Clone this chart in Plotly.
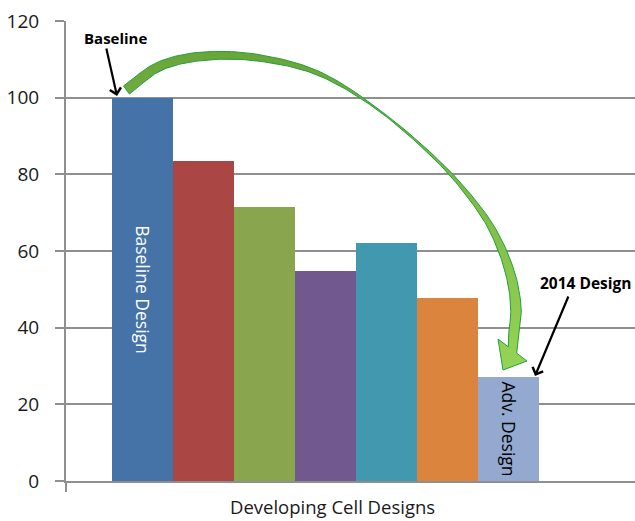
import numpy as np
import plotly.graph_objects as go

# ---------------- data ----------------
categories = ["Baseline Design", "Design 2", "Design 3", "Design 4",
              "Design 5", "Design 6", "Adv. Design"]
values = [100, 83.5, 71.6, 54.8, 62.1, 47.7, 27.2]
bar_labels = ["Baseline Design", "", "", "", "", "", "Adv. Design"]
bar_colors = ["#4572A7", "#AA4643", "#89A54E", "#71588F",
              "#4198AF", "#DB843D", "#93A9CF"]
label_colors = ["#FFFFFF", "#FFFFFF", "#FFFFFF", "#FFFFFF",
                "#FFFFFF", "#FFFFFF", "#000000"]
y_ticks = [0, 20, 40, 60, 80, 100, 120]
x_title = "Developing Cell Designs"

# ---------------- layout constants ----------------
W, H = 635, 521
M_L, M_R, M_T, M_B = 66, 0, 21, 40
X_RANGE = [-1.254, 8.074]
Y_RANGE = [0, 120]
GRID = "#8f8f8f"
FONT = "Open Sans"


def px_to_data(px, py):
    x = X_RANGE[0] + (px - M_L) / (W - M_L - M_R) * (X_RANGE[1] - X_RANGE[0])
    y = Y_RANGE[1] - (py - M_T) / (H - M_T - M_B) * (Y_RANGE[1] - Y_RANGE[0])
    return x, y


def px_to_paper(px, py):
    return (px - M_L) / (W - M_L - M_R), (H - M_B - py) / (H - M_T - M_B)


# ---------------- green curved arrow (decoration, screen pixels) ----------------
center_pts = [(126.5, 90), (160, 66), (205, 56), (260, 58), (320, 74),
              (380, 111), (440, 163), (480, 210), (500, 245), (512, 280),
              (516, 310), (514, 333)]
widths = [10, 9, 8.5, 6.5, 4.0, 1.2, 2.4, 5.0, 7.5, 9.5, 10.5, 10.5]


def catmull(points, n=24):
    P = np.array(points, dtype=float)
    P = np.vstack([2 * P[0] - P[1], P, 2 * P[-1] - P[-2]])
    out, par = [], []
    for i in range(1, len(P) - 2):
        p0, p1, p2, p3 = P[i - 1], P[i], P[i + 1], P[i + 2]
        for t in np.linspace(0, 1, n, endpoint=False):
            t2, t3 = t * t, t * t * t
            out.append(0.5 * ((2 * p1) + (-p0 + p2) * t +
                              (2 * p0 - 5 * p1 + 4 * p2 - p3) * t2 +
                              (-p0 + 3 * p1 - 3 * p2 + p3) * t3))
            par.append(i - 1 + t)
    out.append(P[-2])
    par.append(len(points) - 1)
    return np.array(out), np.array(par)


C, s = catmull(center_pts)
w = np.interp(s, np.arange(len(widths)), widths)
d = np.gradient(C, axis=0)
d /= np.linalg.norm(d, axis=1)[:, None]
nrm = np.column_stack([-d[:, 1], d[:, 0]])
side_a = C + nrm * (w / 2)[:, None]
side_b = C - nrm * (w / 2)[:, None]

wing_a = np.array([498.0, 339.0])
wing_b = np.array([527.0, 361.0])
tip = np.array([503.0, 370.0])
base_dir = (wing_b - wing_a) / np.linalg.norm(wing_b - wing_a)
base_mid = np.array([512.5, 350.0])
end_a = base_mid - base_dir * 5.25
end_b = base_mid + base_dir * 5.25

poly = np.vstack([side_a, end_a, wing_a, tip, wing_b, end_b, side_b[::-1], side_a[:1]])
arrow_x, arrow_y = zip(*[px_to_data(px, py) for px, py in poly])

# ---------------- figure ----------------
fig = go.Figure()

fig.add_trace(go.Bar(
    x=list(range(len(values))),
    y=values,
    width=1,
    marker=dict(color=bar_colors, line=dict(width=0)),
    text=bar_labels,
    textposition="inside",
    insidetextanchor="middle",
    textangle=90,
    constraintext="none",
    textfont=dict(family=FONT, size=17.5, color=label_colors),
    hoverinfo="skip",
    showlegend=False,
))

fig.add_trace(go.Scatter(
    x=arrow_x, y=arrow_y,
    mode="lines",
    fill="toself",
    fillgradient=dict(type="vertical",
                      colorscale=[[0, "#96d455"], [1, "#6aa53a"]]),
    line=dict(color="#22a03c", width=1),
    hoverinfo="skip",
    showlegend=False,
))

# black arrows with labels
tipB = px_to_data(117, 96)
tip14 = px_to_data(535, 376)
fig.add_annotation(x=tipB[0], y=tipB[1], xref="x", yref="y", text="",
                   showarrow=True, ax=-11, ay=-49, arrowhead=4, arrowsize=1,
                   arrowwidth=2.2, arrowcolor="#000000", standoff=0)
fig.add_annotation(x=tip14[0], y=tip14[1], xref="x", yref="y", text="",
                   showarrow=True, ax=34, ay=-81, arrowhead=4, arrowsize=1,
                   arrowwidth=2.2, arrowcolor="#000000", standoff=0)

bx, by = px_to_paper(115, 38)
fig.add_annotation(x=bx, y=by, xref="paper", yref="paper", text="<b>Baseline</b>",
                   showarrow=False, xanchor="center", yanchor="middle",
                   font=dict(family=FONT, size=15, color="#000000"))
dx, dy = px_to_paper(586, 283)
fig.add_annotation(x=dx, y=dy, xref="paper", yref="paper", text="<b>2014 Design</b>",
                   showarrow=False, xanchor="center", yanchor="middle",
                   font=dict(family=FONT, size=15.5, color="#000000"))

tx, ty = px_to_paper(332, 507)
fig.add_annotation(x=tx, y=ty, xref="paper", yref="paper", text=x_title,
                   showarrow=False, xanchor="center", yanchor="middle",
                   font=dict(family=FONT, size=18.5, color="#1a1a1a"))

fig.update_layout(
    width=W, height=H, autosize=False,
    margin=dict(l=M_L, r=M_R, t=M_T, b=M_B, pad=0),
    paper_bgcolor="white", plot_bgcolor="white",
    bargap=0,
    xaxis=dict(range=X_RANGE, showgrid=False, zeroline=False,
               showticklabels=False, ticks="",
               showline=True, linecolor=GRID, linewidth=2,
               minor=dict(tickvals=[X_RANGE[0]], ticks="outside", ticklen=9,
                          tickwidth=2, tickcolor=GRID)),
    yaxis=dict(range=Y_RANGE, tickvals=y_ticks, showgrid=True,
               gridcolor=GRID, gridwidth=2, zeroline=False,
               showline=True, linecolor=GRID, linewidth=2,
               ticks="outside", ticklen=9, tickwidth=2, tickcolor=GRID,
               ticklabelstandoff=12,
               tickfont=dict(family=FONT, size=19, color="#1a1a1a")),
)

fig.write_html("out.html")
